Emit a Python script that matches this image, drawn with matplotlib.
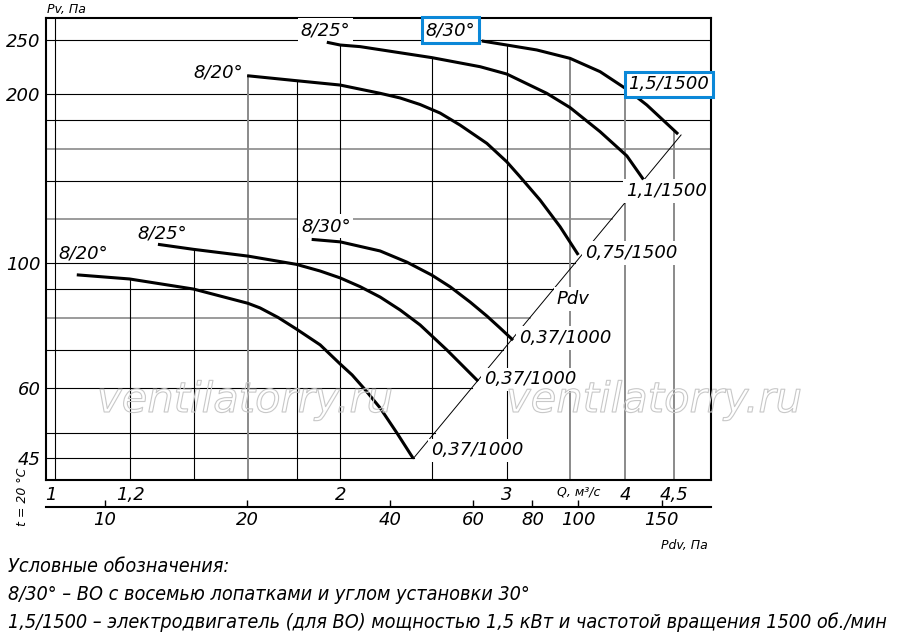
import numpy as np
import matplotlib
matplotlib.use('Agg')
import matplotlib.pyplot as plt
from matplotlib import patheffects
from matplotlib.ticker import NullLocator
from matplotlib.transforms import ScaledTranslation

# кривые вентилятора: Q, м3/с -> Pv, Па
q_20_1000 = [1.054, 1.198, 1.400, 1.598, 1.646, 1.720, 1.798, 1.905, 2.000, 2.059, 2.125, 2.204, 2.296, 2.388]
p_20_1000 = [95.4, 93.8, 90.0, 84.9, 83.3, 80.1, 76.4, 71.6, 66.2, 63.3, 59.6, 55.3, 49.9, 45.0]

q_25_1000 = [1.284, 1.400, 1.599, 1.797, 1.905, 2.000, 2.099, 2.204, 2.314, 2.429, 2.593, 2.797]
p_25_1000 = [108.1, 105.9, 103.0, 99.6, 96.9, 94.2, 90.9, 87.1, 82.6, 77.7, 70.1, 61.7]

q_30_1000 = [1.866, 2.000, 2.204, 2.352, 2.499, 2.614, 2.744, 2.857, 2.951, 3.045]
p_30_1000 = [110.3, 109.2, 105.2, 100.5, 95.3, 90.8, 85.3, 80.6, 76.7, 73.0]

q_20_1500 = [1.595, 1.800, 2.000, 2.204, 2.314, 2.429, 2.550, 2.677, 2.857, 2.999, 3.097, 3.252, 3.414, 3.569]
p_20_1500 = [215.7, 211.3, 207.6, 200.7, 196.9, 191.7, 185.1, 176.2, 163.5, 151.6, 142.6, 129.6, 116.2, 103.5]

q_25_1500 = [1.936, 2.000, 2.099, 2.499, 2.811, 2.999, 3.305, 3.498, 3.763, 4.016, 4.181]
p_25_1500 = [247.4, 244.6, 243.0, 232.3, 223.8, 217.2, 200.7, 189.3, 171.5, 155.3, 141.0]

q_30_1500 = [2.822, 2.999, 3.226, 3.498, 3.763, 4.016, 4.216, 4.549]
p_30_1500 = [248.7, 244.6, 239.7, 231.6, 219.3, 204.0, 191.3, 169.8]

# линия динамического давления Pdv
pdv_q = [2.388, 4.582]
pdv_p = [44.9, 169.2]
pdv_k = 7.85  # Pdv = k * Q^2

grid_p = [45, 50, 60, 70, 80, 90, 100, 120, 140, 160, 180, 200, 250]
grid_q = [1, 1.2, 1.4, 1.6, 1.8, 2, 2.5, 3, 3.5, 4, 4.5]
gray_p = [80, 120, 160]
gray_q = [1.6, 3.5, 4, 4.5]

y_ticks = [45, 60, 100, 200, 250]
x_ticks = [1, 1.2, 2, 3, 4, 4.5]
x_tick_labels = ['1', '1,2', '2', '3', '4', '4,5']
pdv_ticks = [10, 20, 40, 60, 80, 100, 150]

curves = [(q_20_1000, p_20_1000), (q_25_1000, p_25_1000), (q_30_1000, p_30_1000),
          (q_20_1500, p_20_1500), (q_25_1500, p_25_1500), (q_30_1500, p_30_1500)]

# подписи кривых: текст, Q, Pv, белая подложка
curve_labels = [
    ('8/20°', 1.070, 104.3, False), ('8/25°', 1.297, 113.2, True), ('8/30°', 1.932, 116.5, True),
    ('8/20°', 1.486, 219.0, True), ('8/25°', 1.928, 260.1, True),
    ('0,37/1000', 2.790, 46.5, True), ('0,37/1000', 3.174, 62.2, True),
    ('0,37/1000', 3.456, 73.6, True), ('0,75/1500', 4.057, 104.3, True),
    ('1,1/1500', 4.418, 134.5, True), ('Pdv', 3.524, 86.4, True),
]
boxed_labels = [('8/30°', 2.613, 260.1), ('1,5/1500', 4.450, 208.4)]

xmin, xmax = 0.978, 4.928
ymin, ymax = 41.16, 272.9

lbl_font = dict(family='DejaVu Sans', style='italic')
note_font = dict(family='DejaVu Sans', stretch='condensed', style='italic')

fig = plt.figure(figsize=(9, 6.38), dpi=100)
ax = fig.add_axes([46 / 900, 1 - 480 / 638, 665 / 900, 461.7 / 638])
ax.set_xscale('log')
ax.set_yscale('log')
ax.set_xlim(xmin, xmax)
ax.set_ylim(ymin, ymax)


def top_of(q):
    tops = []
    for qs, ps in curves:
        if qs[0] * 0.99 <= q <= qs[-1] * 1.01:
            tops.append(10 ** np.interp(np.log10(q), np.log10(qs), np.log10(ps)))
    return max(tops) if tops else ymax


# сетка
for p in grid_p:
    right = xmax
    if p < 150:
        right = 10 ** np.interp(np.log10(p), np.log10(pdv_p), np.log10(pdv_q))
    gray = p in gray_p
    ax.plot([xmin, right], [p, p], color='#8a8a8a' if gray else 'black',
            lw=1.2 if gray else 0.8, zorder=1)
for q in grid_q:
    gray = q in gray_q
    ax.plot([q, q], [ymin, top_of(q)], color='#8a8a8a' if gray else 'black',
            lw=1.4 if gray else 0.8, zorder=1)

ax.plot(pdv_q, pdv_p, color='black', lw=0.7, zorder=2)

for qs, ps in curves:
    ax.plot(qs, ps, color='black', lw=2.2, solid_joinstyle='round',
            solid_capstyle='butt', zorder=4)

for txt, q, p, under in curve_labels:
    box = dict(boxstyle='square,pad=0.15', fc='white', ec='none') if under else None
    ax.text(q, p, txt, fontsize=13, ha='center', va='center', zorder=3, bbox=box, **lbl_font)
for txt, q, p in boxed_labels:
    ax.text(q, p, txt, fontsize=13, ha='center', va='center', zorder=5, **lbl_font,
            bbox=dict(boxstyle='square,pad=0.2', fc='white', ec='#0b88d8', lw=2.2))

for s in ax.spines.values():
    s.set_linewidth(1.5)

ax.minorticks_off()
ax.set_yticks(y_ticks)
ax.set_yticklabels([str(v) for v in y_ticks], fontsize=13, **lbl_font)
ax.set_xticks(x_ticks)
ax.set_xticklabels(x_tick_labels, fontsize=13, **lbl_font)
ax.tick_params(length=0, pad=4)
first = ax.get_xticklabels()[0]
first.set_transform(first.get_transform() + ScaledTranslation(-0.04, 0, fig.dpi_scale_trans))
ax.text(3.57, -0.026, 'Q, м³/с', transform=ax.get_xaxis_transform(), fontsize=9,
        ha='center', va='center', **lbl_font)

# шкала Pdv под осью Q
sec = ax.secondary_xaxis(-27 / 461.7, functions=(lambda q: pdv_k * q ** 2,
                                                 lambda p: np.sqrt(np.abs(p) / pdv_k)))
sec.set_xticks(pdv_ticks)
sec.set_xticklabels([str(v) for v in pdv_ticks], fontsize=13, **lbl_font)
sec.xaxis.set_minor_locator(NullLocator())
sec.tick_params(direction='in', length=5, width=1, pad=3)
sec.spines['bottom'].set_linewidth(1.5)

fig.text(47 / 900, 1 - 9 / 638, 'Pv, Па', fontsize=9, ha='left', va='center', **lbl_font)
fig.text(708 / 900, 1 - 546 / 638, 'Pdv, Па', fontsize=9, ha='right', va='center', **lbl_font)
fig.text(22 / 900, 1 - 497 / 638, 't = 20 °C', fontsize=9, rotation=90,
         ha='center', va='center', **lbl_font)

for x in (245 / 900, 654 / 900):
    fig.text(x, 1 - 400 / 638, 'ventilatorry.ru', fontsize=30, ha='center', va='center',
             family='DejaVu Sans', style='italic', color='none', zorder=6,
             path_effects=[patheffects.Stroke(linewidth=0.8, foreground='#c8c8c8')])

notes = ['Условные обозначения:',
         '8/30° – ВО с восемью лопатками и углом установки 30°',
         '1,5/1500 – электродвигатель (для ВО) мощностью 1,5 кВт и частотой вращения 1500 об./мин']
for i, line in enumerate(notes):
    fig.text(8 / 900, 1 - (566 + 28 * i) / 638, line, fontsize=14.2, ha='left', va='center',
             **note_font)

fig.savefig('out.png', dpi=100)
